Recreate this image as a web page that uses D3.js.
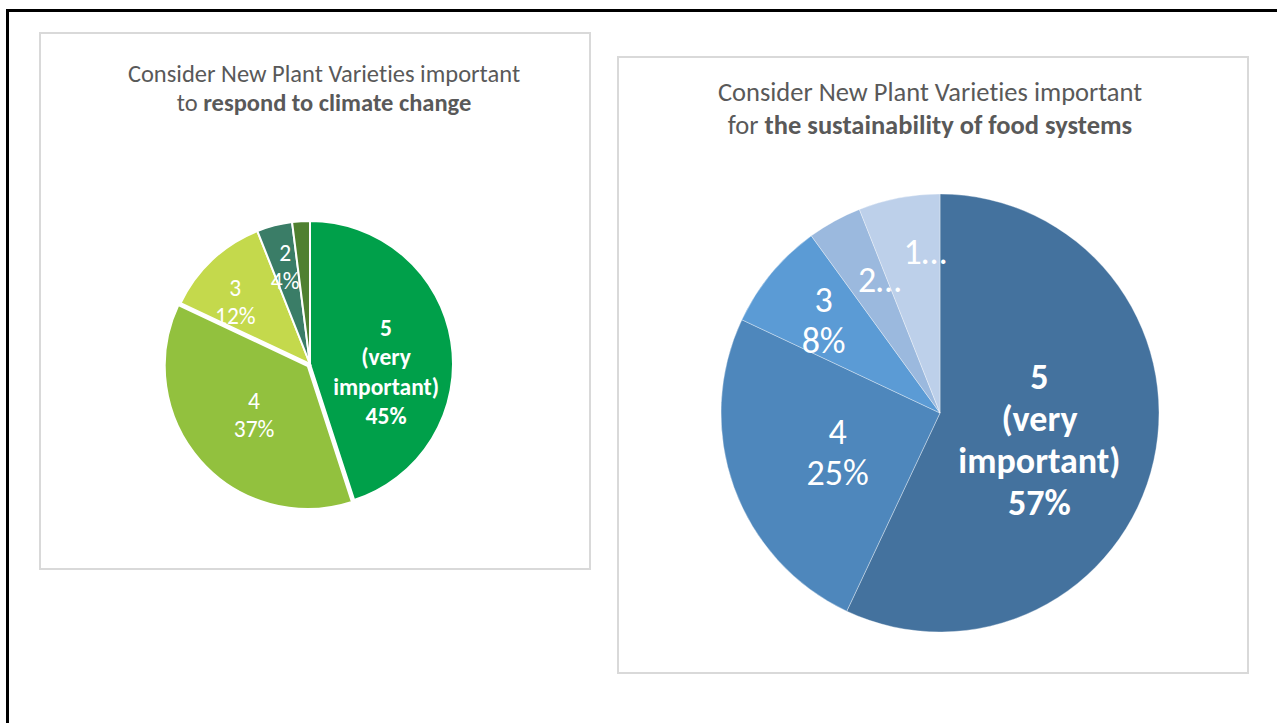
<!DOCTYPE html>
<html><head><meta charset="utf-8">
<script src="https://cdn.jsdelivr.net/npm/d3@7"></script>
<style>
html,body{margin:0;padding:0;background:#fff;}
svg{display:block;font-family:Carlito,Lato,"Open Sans",sans-serif;font-variant-ligatures:none;}
</style></head>
<body><svg id="c" width="1277" height="723"></svg>
<script>
// ---- data ----
const leftCategories = ["5 (very important)", "4", "3", "2", "1"];
const leftValues = [45, 37, 12, 4, 2];
const leftLabels = [["5", "(very", "important)", "45%"], ["4", "37%"], ["3", "12%"], ["2", "4%"], []];
const leftTitle1 = "Consider New Plant Varieties important";
const leftTitlePre = "to ";
const leftTitleBold = "respond to climate change";

const rightCategories = ["5 (very important)", "4", "3", "2", "1"];
const rightValues = [57, 25, 8, 4, 6];
const rightLabels = [["5", "(very", "important)", "57%"], ["4", "25%"], ["3", "8%"], ["2\u2026"], ["1\u2026"]];
const rightTitle1 = "Consider New Plant Varieties important";
const rightTitlePre = "for ";
const rightTitleBold = "the sustainability of food systems";

// ---- style / layout ----
const leftColors = ["#00a04a", "#92c13e", "#c4d94c", "#3a7d67", "#4f8030"];
const rightColors = ["#44729e", "#4e87bc", "#5b9bd5", "#9bb9de", "#bdd0ea"];

const svg = d3.select("#c");

// outer black frame
svg.append("rect").attr("x", 7.5).attr("y", 10.5).attr("width", 1300).attr("height", 800)
  .attr("fill", "none").attr("stroke", "#000").attr("stroke-width", 3);

function panel(cfg) {
  const g = svg.append("g");
  g.append("rect").attr("x", cfg.box[0]).attr("y", cfg.box[1])
    .attr("width", cfg.box[2]).attr("height", cfg.box[3])
    .attr("fill", "#fff").attr("stroke", "#d9d9d9").attr("stroke-width", 2);

  const t = g.append("text").attr("text-anchor", "middle").attr("fill", "#595959")
    .attr("font-size", cfg.titleSize);
  t.append("tspan").attr("x", cfg.titleX).attr("y", cfg.titleY).text(cfg.t1);
  const l2 = t.append("tspan").attr("x", cfg.titleX).attr("y", cfg.titleY + cfg.titleLH);
  l2.append("tspan").text(cfg.pre);
  l2.append("tspan").attr("font-weight", "bold").text(cfg.bold);

  const pie = d3.pie().sort(null).value(d => d)(cfg.values);
  const arc = d3.arc().innerRadius(0).outerRadius(cfg.r);
  const pg = g.append("g").attr("transform", `translate(${cfg.cx},${cfg.cy})`);
  pg.selectAll("path").data(pie).join("path")
    .attr("d", arc)
    .attr("fill", (d, i) => cfg.colors[i])
    .attr("stroke", cfg.stroke).attr("stroke-width", cfg.strokeW)
    .attr("transform", (d, i) => {
      const e = cfg.explode[i] || 0;
      const a = (d.startAngle + d.endAngle) / 2;
      return `translate(${Math.sin(a) * e},${-Math.cos(a) * e})`;
    });

  pie.forEach((d, i) => {
    const lines = cfg.labels[i];
    if (!lines.length) return;
    const [frac, shift] = cfg.labelPos[i];
    const a = (d.startAngle + d.endAngle) / 2 + shift * Math.PI / 180;
    const x = Math.sin(a) * frac * cfg.r, y = -Math.cos(a) * frac * cfg.r;
    const bold = i === 0;
    const lh = bold ? cfg.lhBold : cfg.lh;
    const tx = pg.append("text").attr("text-anchor", "middle").attr("fill", "#fff")
      .attr("font-size", cfg.labelSize).attr("font-weight", bold ? "bold" : "normal");
    lines.forEach((s, k) => {
      tx.append("tspan").attr("x", x)
        .attr("y", y + (k - (lines.length - 1) / 2) * lh)
        .attr("dy", "0.35em").text(s);
    });
  });
}

panel({
  box: [40, 33, 550, 536], titleX: 324, titleY: 82, titleLH: 29, titleSize: 24.5,
  t1: leftTitle1, pre: leftTitlePre, bold: leftTitleBold,
  values: leftValues, colors: leftColors, labels: leftLabels,
  cx: 310, cy: 364, r: 143, stroke: "#fff", strokeW: 2, explode: [0, 3, 0, 0, 0],
  labelPos: [[0.535, 15], [0.53, -1], [0.68, -7], [0.70, 0], [0.7, 0]],
  labelSize: 23.5, lh: 28, lhBold: 29.5
});

panel({
  box: [618, 57, 630, 616], titleX: 930, titleY: 101, titleLH: 33, titleSize: 26.5,
  t1: rightTitle1, pre: rightTitlePre, bold: rightTitleBold,
  values: rightValues, colors: rightColors, labels: rightLabels,
  cx: 940, cy: 413, r: 219, stroke: "rgba(255,255,255,0.35)", strokeW: 1, explode: [0, 0, 0, 0, 0],
  labelPos: [[0.47, 2.4], [0.50, -1], [0.68, -1], [0.67, 4.5], [0.74, 5.5]],
  labelSize: 36, lh: 41, lhBold: 42
});
</script>
</body></html>
